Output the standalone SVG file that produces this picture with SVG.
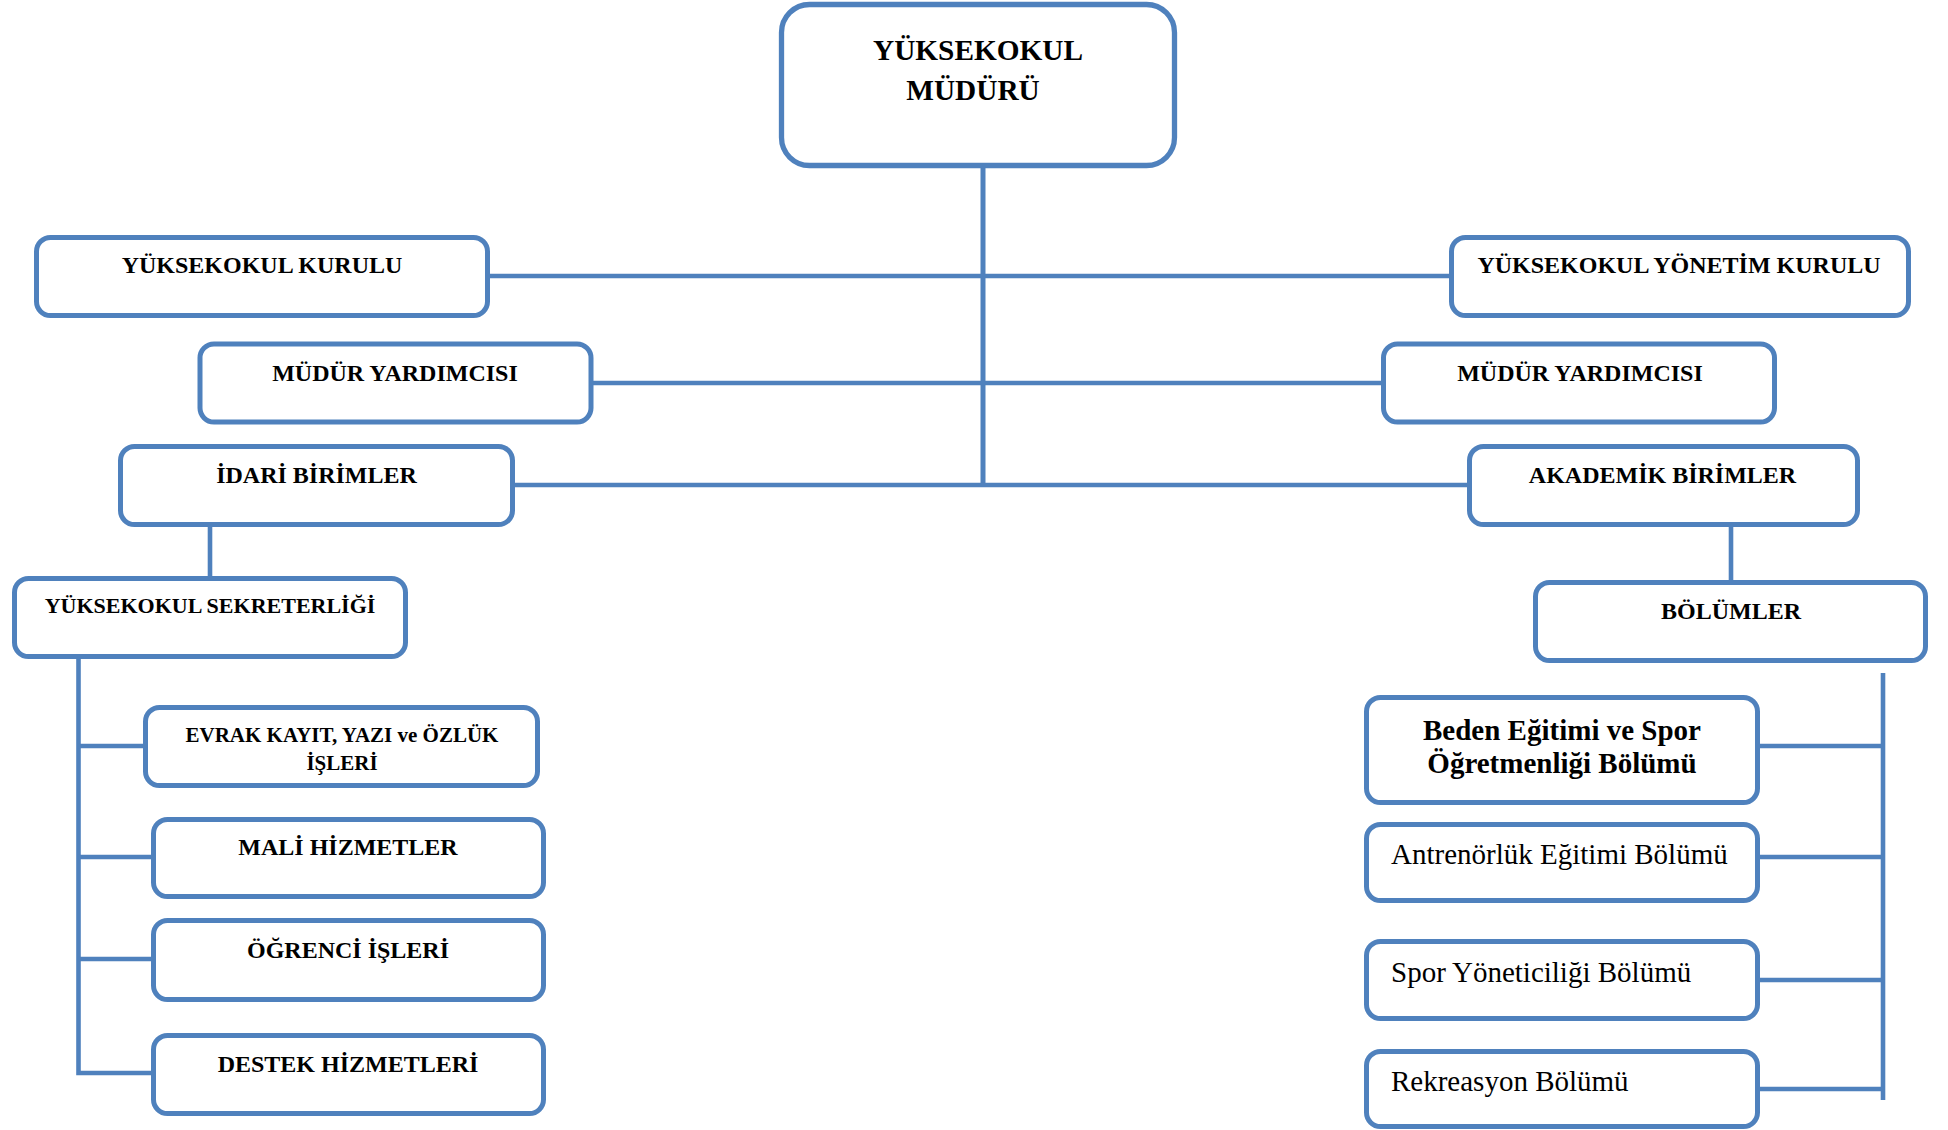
<svg xmlns="http://www.w3.org/2000/svg" width="1948" height="1130" viewBox="0 0 1948 1130">
<style>
.box{fill:#fff;stroke:#4F81BD;stroke-width:5}
.ln{stroke:#4F81BD;stroke-width:4.6;fill:none;stroke-linecap:butt}
text{font-family:"Liberation Serif","Times New Roman",serif;fill:#000}
.b{font-weight:bold;text-anchor:middle;font-size:24px}
.r{font-size:29px}
</style>
<rect width="1948" height="1130" fill="#fff"/>
<g id="connectors">
<line class="ln" x1="983" y1="166" x2="983" y2="487" style="stroke-width:5"/>
<line class="ln" x1="488" y1="276" x2="1451" y2="276"/>
<line class="ln" x1="591" y1="383" x2="1383" y2="383"/>
<line class="ln" x1="512" y1="485" x2="1469" y2="485"/>
<line class="ln" x1="210" y1="525" x2="210" y2="578"/>
<line class="ln" x1="1731" y1="525" x2="1731" y2="582"/>
<polyline class="ln" points="78.5,657 78.5,1073 153,1073"/>
<line class="ln" x1="78.5" y1="746" x2="145" y2="746"/>
<line class="ln" x1="78.5" y1="857" x2="153" y2="857"/>
<line class="ln" x1="78.5" y1="959" x2="153" y2="959"/>
<line class="ln" x1="1883" y1="673" x2="1883" y2="1100"/>
<line class="ln" x1="1758" y1="746" x2="1883" y2="746"/>
<line class="ln" x1="1758" y1="857" x2="1883" y2="857"/>
<line class="ln" x1="1758" y1="980" x2="1883" y2="980"/>
<line class="ln" x1="1758" y1="1089" x2="1883" y2="1089"/>
</g>
<g id="mudur">
<rect class="box" x="781.5" y="4.5" width="393" height="161" rx="28" style="stroke-width:5.3"/>
<text class="b" x="978" y="60" style="font-size:29.3px">YÜKSEKOKUL</text>
<text class="b" x="973" y="100" style="font-size:29.3px">MÜDÜRÜ</text>
</g>
<g id="kurulu">
<rect class="box" x="36.5" y="237.5" width="451" height="78" rx="14"/>
<text class="b" x="262" y="273">YÜKSEKOKUL KURULU</text>
</g>
<g id="yonetim">
<rect class="box" x="1451.5" y="237.5" width="457" height="78" rx="14"/>
<text class="b" x="1679" y="273">YÜKSEKOKUL YÖNETİM KURULU</text>
</g>
<g id="mudur-yrd-sol">
<rect class="box" x="200" y="344" width="391" height="78" rx="14"/>
<text class="b" x="395" y="381">MÜDÜR YARDIMCISI</text>
</g>
<g id="mudur-yrd-sag">
<rect class="box" x="1383.5" y="344" width="391" height="78" rx="14"/>
<text class="b" x="1580" y="381">MÜDÜR YARDIMCISI</text>
</g>
<g id="idari">
<rect class="box" x="120.5" y="446.5" width="392" height="78" rx="14"/>
<text class="b" x="316.5" y="483">İDARİ BİRİMLER</text>
</g>
<g id="akademik">
<rect class="box" x="1469.5" y="446.5" width="388" height="78" rx="14"/>
<text class="b" x="1662.5" y="483">AKADEMİK BİRİMLER</text>
</g>
<g id="sekreterlik">
<rect class="box" x="14.5" y="578.5" width="391" height="78" rx="14"/>
<text class="b" x="210" y="613" style="font-size:22px">YÜKSEKOKUL SEKRETERLİĞİ</text>
</g>
<g id="bolumler">
<rect class="box" x="1535.5" y="582.5" width="390" height="78" rx="14"/>
<text class="b" x="1731" y="619">BÖLÜMLER</text>
</g>
<g id="evrak">
<rect class="box" x="145.5" y="707.5" width="392" height="78" rx="14"/>
<text class="b" x="342" y="742" style="font-size:21px">EVRAK KAYIT, YAZI ve ÖZLÜK</text>
<text class="b" x="342" y="770" style="font-size:21px">İŞLERİ</text>
</g>
<g id="mali">
<rect class="box" x="153.5" y="819.5" width="390" height="77" rx="14"/>
<text class="b" x="348" y="855">MALİ HİZMETLER</text>
</g>
<g id="ogrenci">
<rect class="box" x="153.5" y="920.5" width="390" height="79" rx="14"/>
<text class="b" x="348" y="958">ÖĞRENCİ İŞLERİ</text>
</g>
<g id="destek">
<rect class="box" x="153.5" y="1035.5" width="390" height="78" rx="14"/>
<text class="b" x="348" y="1072">DESTEK HİZMETLERİ</text>
</g>
<g id="beden">
<rect class="box" x="1366.5" y="697.5" width="391" height="105" rx="14"/>
<text class="b" x="1562" y="740" style="font-size:29px">Beden Eğitimi ve Spor</text>
<text class="b" x="1562" y="773" style="font-size:29px">Öğretmenliği Bölümü</text>
</g>
<g id="antrenorluk">
<rect class="box" x="1366.5" y="824.5" width="391" height="76" rx="14"/>
<text class="r" x="1391" y="864">Antrenörlük Eğitimi Bölümü</text>
</g>
<g id="spor-yoneticiligi">
<rect class="box" x="1366.5" y="941.5" width="391" height="77" rx="14"/>
<text class="r" x="1391" y="982">Spor Yöneticiliği Bölümü</text>
</g>
<g id="rekreasyon">
<rect class="box" x="1366.5" y="1051.5" width="391" height="75" rx="14"/>
<text class="r" x="1391" y="1091">Rekreasyon Bölümü</text>
</g>
</svg>
